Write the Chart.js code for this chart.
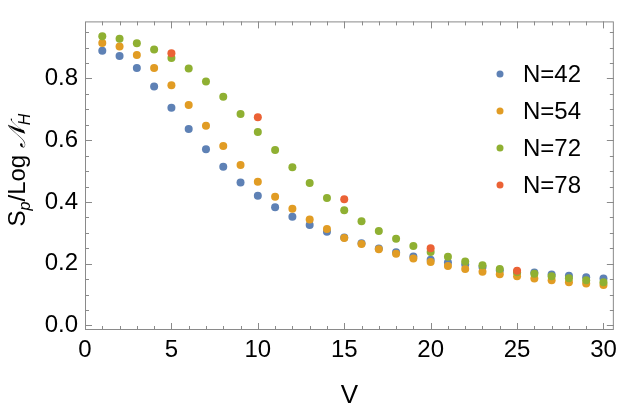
<!DOCTYPE html>
<html>
<head>
<meta charset="utf-8">
<script src="https://cdn.jsdelivr.net/npm/chart.js@4.4.1/dist/chart.umd.min.js"></script>
<style>
  html, body { margin: 0; padding: 0; background: #fff; }
  #wrap { width: 623px; height: 415px; }
</style>
</head>
<body>
<div id="wrap"><canvas id="chart" width="623" height="415"></canvas></div>
<script>
// Data
const vValues = [1, 2, 3, 4, 5, 6, 7, 8, 9, 10, 11, 12, 13, 14, 15,
                 16, 17, 18, 19, 20, 21, 22, 23, 24, 25, 26, 27, 28, 29, 30];
const n42 = [0.890, 0.873, 0.834, 0.774, 0.705, 0.636, 0.571, 0.514, 0.463, 0.420,
             0.383, 0.352, 0.325, 0.303, 0.285, 0.266, 0.249, 0.237, 0.223, 0.213,
             0.204, 0.197, 0.189, 0.178, 0.173, 0.171, 0.165, 0.161, 0.156, 0.152];
const n54 = [0.915, 0.904, 0.876, 0.834, 0.778, 0.714, 0.647, 0.581, 0.520, 0.465,
             0.417, 0.378, 0.343, 0.312, 0.283, 0.264, 0.247, 0.232, 0.217, 0.205,
             0.192, 0.183, 0.174, 0.166, 0.159, 0.152, 0.146, 0.140, 0.136, 0.131];
const n72 = [0.937, 0.929, 0.914, 0.894, 0.866, 0.832, 0.790, 0.741, 0.685, 0.627,
             0.568, 0.512, 0.461, 0.413, 0.373, 0.337, 0.306, 0.281, 0.257, 0.238,
             0.222, 0.207, 0.195, 0.183, 0.172, 0.167, 0.159, 0.153, 0.146, 0.140];
const vValues78 = [5, 10, 15, 20, 25];
const n78 = [0.882, 0.674, 0.409, 0.250, 0.177];

const seriesLabels = ['N=42', 'N=54', 'N=72', 'N=78'];
const seriesColors = ['#5E81B5', '#E19C24', '#8FB032', '#EB6235'];
const xTicks = [0, 5, 10, 15, 20, 25, 30];
const yTicks = [0.0, 0.2, 0.4, 0.6, 0.8];

const FONT = '"Liberation Sans", Arial, sans-serif';
const AXIS_GRAY = '#8a8a8a';

function pts(xs, ys) {
  return xs.map((x, i) => ({ x: x, y: ys[i] }));
}

function makeSet(i, xs, ys) {
  return {
    label: seriesLabels[i],
    data: pts(xs, ys),
    backgroundColor: seriesColors[i],
    borderColor: seriesColors[i],
    borderWidth: 0,
    pointRadius: 4,
    pointHoverRadius: 4,
    showLine: false,
    order: 4 - i
  };
}

// frame with inward ticks on all four sides, Mathematica style
const framePlugin = {
  id: 'frame',
  afterDatasetsDraw(chart) {
    const ctx = chart.ctx;
    const a = chart.chartArea;
    const xs = chart.scales.x, ys = chart.scales.y;
    ctx.save();
    ctx.strokeStyle = AXIS_GRAY;
    ctx.lineWidth = 1;
    ctx.strokeRect(a.left + 0.5, a.top + 0.5, a.right - a.left - 1, a.bottom - a.top - 1);
    ctx.beginPath();
    for (let v = 1; v <= 30; v++) {
      const px = Math.round(xs.getPixelForValue(v)) + 0.5;
      const len = v % 5 === 0 ? 7 : 4;
      ctx.moveTo(px, a.bottom); ctx.lineTo(px, a.bottom - len);
      ctx.moveTo(px, a.top); ctx.lineTo(px, a.top + len);
    }
    for (let k = 0; k <= 19; k++) {
      const v = k * 0.05;
      if (v > ys.max) break;
      const py = Math.round(ys.getPixelForValue(v)) + 0.5;
      const len = k % 4 === 0 ? 7 : 4;
      ctx.moveTo(a.left, py); ctx.lineTo(a.left + len, py);
      ctx.moveTo(a.right, py); ctx.lineTo(a.right - len, py);
    }
    ctx.stroke();
    ctx.restore();
  }
};

// y title with subscripts and the legend
const textPlugin = {
  id: 'texts',
  afterDraw(chart) {
    const ctx = chart.ctx;
    ctx.save();
    ctx.fillStyle = '#000';
    ctx.textBaseline = 'alphabetic';
    const parts = [
      { t: 'S', f: '24px ' + FONT, dy: 0 },
      { t: 'p', f: 'italic 16px ' + FONT, dy: 5 },
      { t: '/Log ', f: '24px ' + FONT, dy: 0 },
      { t: '\u{1D4A9}', f: 'italic 24px ' + FONT, dy: 0 },
      { t: 'H', f: 'italic 16px ' + FONT, dy: 5 }
    ];
    let total = 0;
    parts.forEach(p => { ctx.font = p.f; p.w = ctx.measureText(p.t).width; total += p.w; });
    ctx.translate(25, 170);
    ctx.rotate(-Math.PI / 2);
    let x = -total / 2;
    parts.forEach(p => {
      ctx.font = p.f;
      ctx.textAlign = 'left';
      ctx.fillText(p.t, x, p.dy);
      x += p.w;
    });
    ctx.restore();

    ctx.save();
    ctx.textBaseline = 'middle';
    ctx.font = '24px ' + FONT;
    chart.data.datasets.forEach((ds, i) => {
      const y = 74 + i * 37;
      ctx.fillStyle = ds.backgroundColor;
      ctx.beginPath();
      ctx.arc(500, y, 3.5, 0, Math.PI * 2);
      ctx.fill();
      ctx.fillStyle = '#000';
      ctx.fillText(ds.label, 523, y + 1);
    });
    ctx.restore();
  }
};

new Chart(document.getElementById('chart'), {
  type: 'scatter',
  data: {
    datasets: [
      makeSet(0, vValues, n42),
      makeSet(1, vValues, n54),
      makeSet(2, vValues, n72),
      makeSet(3, vValues78, n78)
    ]
  },
  options: {
    responsive: false,
    animation: false,
    layout: { padding: { left: 0, right: 9, top: 1, bottom: 0 } },
    plugins: { legend: { display: false }, tooltip: { enabled: false } },
    scales: {
      x: {
        type: 'linear',
        min: 0,
        max: 30.6,
        afterBuildTicks: s => { s.ticks = xTicks.map(v => ({ value: v })); },
        afterFit: s => { s.height = 85; },
        grid: { display: false, drawTicks: false },
        border: { display: false },
        ticks: { color: '#000', font: { family: FONT, size: 24 }, padding: 6, maxRotation: 0 },
        title: { display: true, text: 'V', color: '#000', font: { family: FONT, size: 26 }, padding: { top: 4 } }
      },
      y: {
        type: 'linear',
        min: -0.015,
        max: 0.985,
        afterBuildTicks: s => { s.ticks = yTicks.map(v => ({ value: v })); },
        afterFit: s => { s.width = 85; },
        grid: { display: false, drawTicks: false },
        border: { display: false },
        ticks: { color: '#000', font: { family: FONT, size: 24 }, padding: 7,
                 callback: v => v.toFixed(1) }
      }
    }
  },
  plugins: [framePlugin, textPlugin]
});
</script>
</body>
</html>
